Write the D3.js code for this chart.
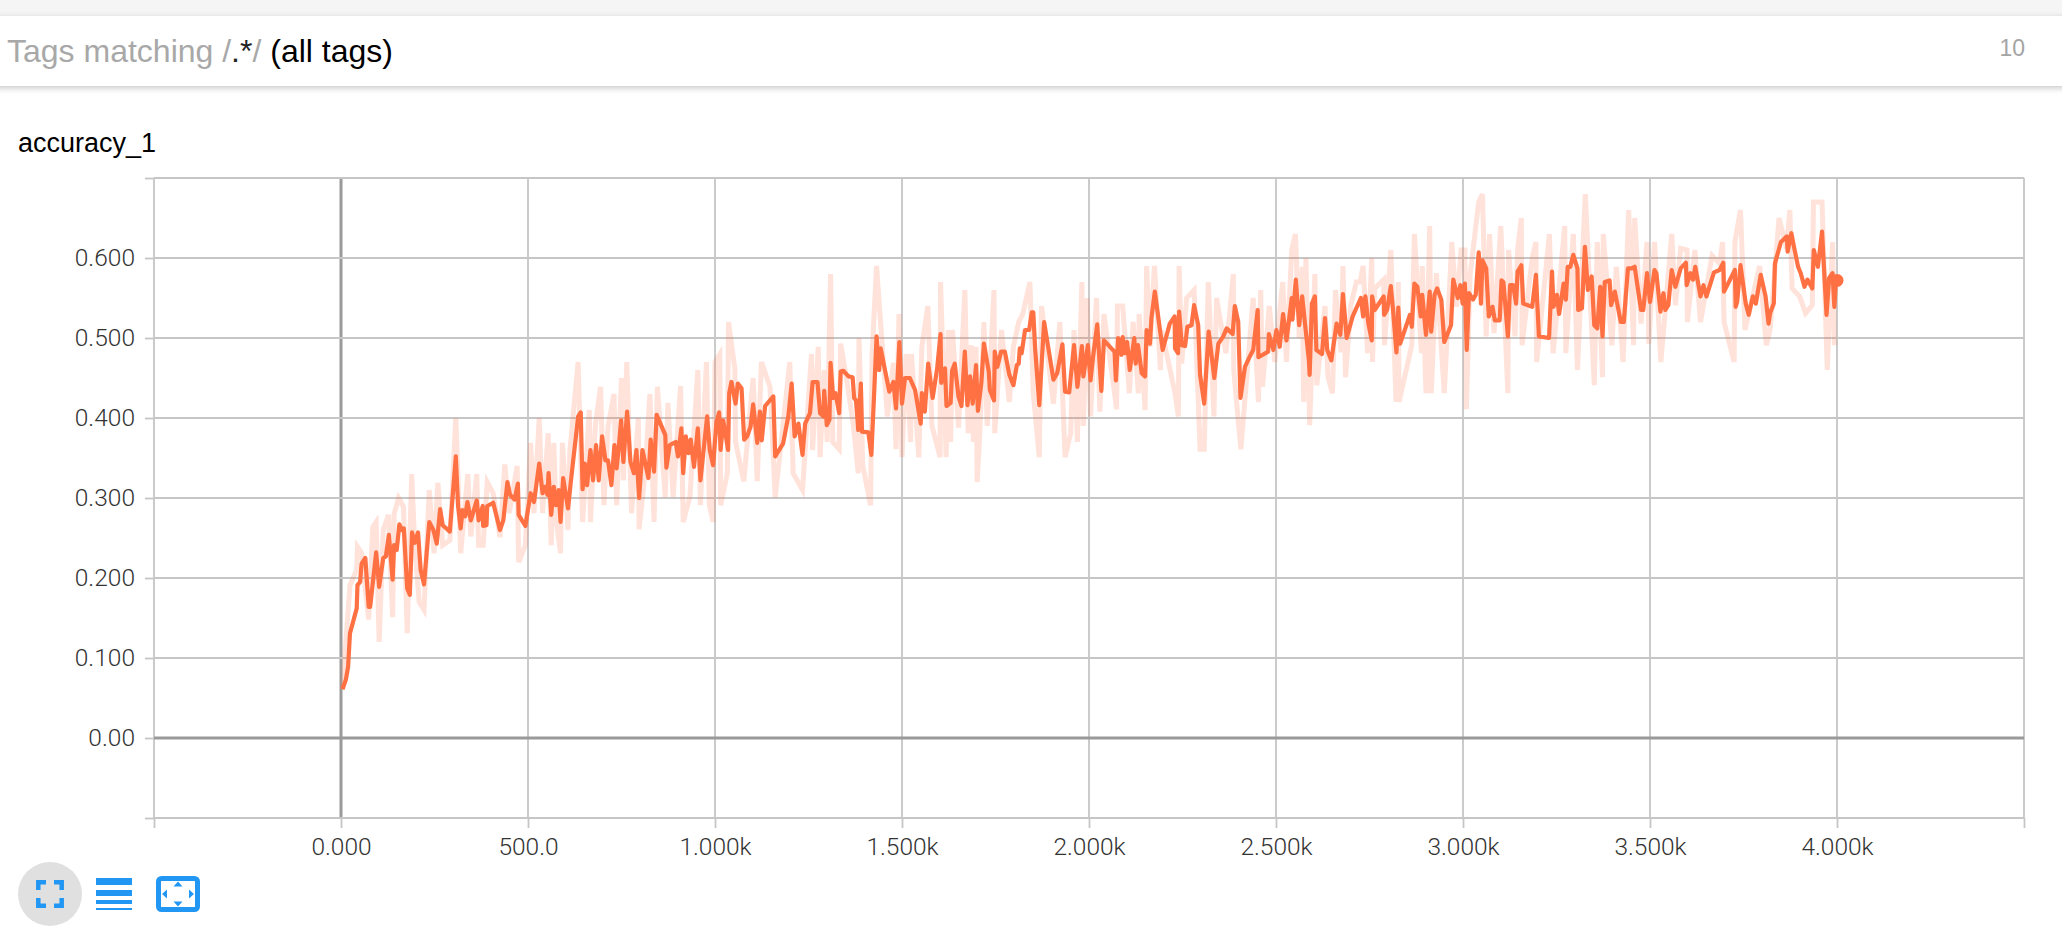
<!DOCTYPE html>
<html><head><meta charset="utf-8">
<script src="https://cdn.jsdelivr.net/npm/d3@7"></script>
<style>
html,body{margin:0;padding:0;background:#fff;overflow:hidden}
svg{display:block}
</style></head><body>
<svg id="c" width="2062" height="942"></svg>
<script>
const chartTitle = "accuracy_1";
const xTickValues = [-500,0,500,1000,1500,2000,2500,3000,3500,4000,4500];
const xTickLabels = ["","0.000","500.0","1.000k","1.500k","2.000k","2.500k","3.000k","3.500k","4.000k",""];
const yTickValues = [-0.1,0,0.1,0.2,0.3,0.4,0.5,0.6,0.7];
const yTickLabels = ["","0.00","0.100","0.200","0.300","0.400","0.500","0.600",""];
const smoothedSeries = [[4,.061],[13,.073],[19,.089],[24,.131],[42,.162],[44,.191],[51,.195],[55,.218],[65,.225],[74,.164],[78,.164],[94,.232],[102,.189],[113,.225],[120,.227],[128,.254],[138,.198],[142,.241],[149,.235],[156,.267],[163,.260],[168,.262],[177,.187],[184,.179],[190,.257],[197,.244],[206,.257],[213,.210],[222,.192],[236,.270],[247,.260],[256,.243],[265,.286],[272,.266],[291,.258],[307,.352],[313,.290],[320,.262],[325,.285],[332,.277],[338,.295],[347,.272],[363,.297],[368,.272],[379,.290],[380,.265],[389,.266],[391,.290],[407,.294],[425,.260],[434,.272],[445,.320],[452,.304],[464,.298],[473,.318],[475,.279],[493,.265],[507,.306],[516,.295],[530,.343],[539,.306],[546,.314],[552,.304],[555,.331],[562,.279],[569,.314],[575,.291],[582,.310],[587,.270],[594,.325],[607,.287],[614,.318],[634,.402],[641,.407],[646,.311],[652,.343],[658,.316],[667,.360],[674,.322],[682,.366],[689,.322],[698,.377],[707,.347],[714,.347],[723,.316],[731,.366],[737,.337],[742,.360],[749,.397],[755,.345],[765,.408],[774,.345],[783,.331],[790,.360],[797,.300],[806,.360],[822,.325],[828,.373],[837,.333],[844,.404],[867,.379],[870,.338],[879,.366],[895,.370],[901,.352],[910,.387],[915,.331],[922,.377],[929,.356],[935,.373],[944,.339],[954,.387],[961,.322],[979,.402],[986,.360],[995,.341],[1004,.395],[1011,.407],[1015,.360],[1022,.397],[1035,.360],[1038,.431],[1044,.445],[1055,.418],[1061,.443],[1071,.437],[1078,.373],[1086,.377],[1095,.389],[1102,.417],[1113,.369],[1120,.408],[1125,.372],[1134,.415],[1156,.427],[1161,.352],[1182,.368],[1196,.402],[1205,.443],[1213,.377],[1223,.393],[1234,.354],[1241,.393],[1254,.406],[1261,.445],[1271,.445],[1274,.445],[1281,.406],[1290,.402],[1292,.434],[1299,.391],[1306,.398],[1309,.469],[1316,.425],[1322,.431],[1332,.406],[1336,.458],[1343,.459],[1357,.452],[1368,.451],[1372,.425],[1377,.422],[1383,.385],[1390,.443],[1393,.383],[1410,.382],[1418,.354],[1425,.425],[1432,.502],[1439,.460],[1443,.487],[1466,.433],[1477,.445],[1484,.412],[1493,.495],[1500,.418],[1508,.450],[1521,.450],[1535,.435],[1550,.393],[1553,.431],[1561,.408],[1570,.468],[1582,.425],[1594,.462],[1603,.505],[1605,.444],[1615,.462],[1619,.415],[1630,.419],[1634,.459],[1641,.468],[1651,.427],[1659,.415],[1668,.483],[1675,.416],[1682,.452],[1689,.418],[1698,.466],[1703,.409],[1712,.443],[1719,.493],[1732,.458],[1735,.435],[1746,.422],[1748,.483],[1755,.464],[1765,.483],[1775,.483],[1787,.454],[1798,.441],[1807,.466],[1812,.468],[1815,.487],[1820,.481],[1829,.510],[1840,.510],[1847,.532],[1851,.532],[1856,.487],[1867,.416],[1880,.520],[1905,.448],[1915,.456],[1929,.492],[1936,.433],[1947,.432],[1960,.491],[1969,.439],[1981,.490],[1985,.452],[1997,.491],[2004,.447],[2011,.477],[2022,.517],[2033,.434],[2040,.497],[2068,.483],[2072,.447],[2078,.500],[2087,.479],[2090,.501],[2096,.481],[2102,.495],[2109,.460],[2121,.500],[2125,.468],[2131,.491],[2141,.456],[2150,.452],[2154,.510],[2163,.493],[2167,.525],[2176,.558],[2197,.485],[2216,.518],[2229,.527],[2230,.487],[2238,.481],[2241,.533],[2248,.491],[2257,.490],[2263,.514],[2274,.516],[2281,.541],[2292,.516],[2297,.454],[2308,.418],[2320,.508],[2335,.450],[2346,.493],[2359,.502],[2368,.512],[2384,.505],[2390,.540],[2399,.520],[2405,.425],[2417,.464],[2430,.477],[2439,.485],[2451,.535],[2453,.476],[2479,.483],[2481,.505],[2493,.485],[2501,.510],[2510,.489],[2519,.530],[2528,.497],[2542,.550],[2544,.523],[2553,.573],[2562,.516],[2570,.552],[2578,.516],[2588,.472],[2590,.454],[2596,.543],[2604,.552],[2608,.485],[2623,.480],[2631,.525],[2637,.485],[2648,.472],[2662,.518],[2672,.504],[2679,.555],[2689,.500],[2705,.527],[2727,.550],[2733,.527],[2739,.552],[2747,.518],[2756,.497],[2757,.552],[2764,.535],[2788,.552],[2789,.529],[2797,.535],[2807,.565],[2813,.535],[2822,.482],[2827,.538],[2832,.493],[2858,.529],[2863,.514],[2870,.568],[2878,.564],[2887,.527],[2891,.554],[2901,.504],[2911,.558],[2915,.508],[2924,.554],[2931,.562],[2942,.548],[2950,.495],[2968,.516],[2974,.573],[2986,.550],[2993,.566],[2999,.543],[3005,.568],[3010,.485],[3016,.556],[3027,.548],[3034,.554],[3042,.607],[3048,.543],[3052,.597],[3062,.587],[3069,.527],[3079,.539],[3085,.522],[3098,.522],[3103,.572],[3108,.570],[3120,.502],[3126,.566],[3134,.566],[3142,.543],[3146,.583],[3156,.591],[3161,.543],[3185,.539],[3195,.579],[3203,.502],[3230,.500],[3238,.583],[3242,.539],[3251,.554],[3257,.530],[3269,.568],[3275,.548],[3280,.589],[3287,.589],[3295,.604],[3306,.587],[3308,.535],[3318,.537],[3326,.614],[3334,.560],[3344,.577],[3351,.516],[3359,.512],[3367,.564],[3373,.502],[3379,.570],[3392,.572],[3396,.541],[3406,.558],[3422,.520],[3430,.520],[3441,.587],[3451,.587],[3459,.589],[3476,.535],[3482,.535],[3492,.581],[3500,.545],[3512,.585],[3517,.581],[3528,.533],[3536,.556],[3541,.535],[3549,.541],[3558,.585],[3568,.564],[3582,.587],[3596,.594],[3598,.566],[3608,.581],[3615,.573],[3621,.589],[3635,.552],[3643,.566],[3651,.552],[3671,.582],[3686,.585],[3696,.594],[3698,.558],[3727,.585],[3729,.539],[3733,.545],[3742,.591],[3756,.543],[3764,.529],[3775,.552],[3783,.543],[3792,.568],[3796,.579],[3809,.552],[3817,.518],[3821,.531],[3831,.543],[3834,.593],[3850,.620],[3866,.627],[3868,.608],[3878,.631],[3885,.614],[3896,.589],[3903,.581],[3913,.564],[3921,.573],[3934,.562],[3938,.610],[3949,.589],[3960,.633],[3972,.529],[3979,.575],[3988,.581],[3993,.539],[3997,.572]];
const rawSeries = [[4,.061],[24,.191],[42,.210],[44,.239],[55,.231],[74,.148],[85,.264],[94,.270],[102,.120],[113,.260],[127,.279],[138,.151],[142,.280],[154,.300],[167,.289],[177,.131],[189,.330],[197,.243],[209,.170],[222,.160],[236,.310],[249,.231],[259,.319],[272,.241],[291,.247],[307,.400],[320,.231],[339,.330],[347,.252],[363,.330],[368,.241],[380,.241],[391,.320],[407,.306],[425,.251],[438,.342],[450,.281],[471,.340],[475,.220],[493,.241],[507,.369],[516,.281],[530,.400],[539,.281],[554,.381],[562,.241],[569,.369],[576,.270],[587,.231],[592,.369],[607,.260],[612,.359],[634,.470],[646,.270],[664,.410],[667,.270],[680,.391],[694,.439],[703,.291],[714,.389],[730,.430],[737,.291],[750,.450],[755,.322],[764,.470],[777,.281],[795,.400],[797,.261],[813,.331],[826,.430],[837,.270],[846,.439],[867,.301],[874,.419],[888,.301],[908,.440],[915,.270],[933,.302],[954,.460],[961,.291],[977,.470],[985,.291],[995,.270],[1000,.470],[1013,.480],[1015,.291],[1033,.331],[1036,.520],[1053,.462],[1055,.370],[1077,.321],[1102,.450],[1113,.321],[1124,.470],[1147,.439],[1161,.301],[1200,.470],[1209,.331],[1234,.310],[1258,.480],[1261,.360],[1276,.489],[1281,.351],[1292,.460],[1300,.370],[1309,.580],[1315,.370],[1332,.361],[1336,.493],[1352,.448],[1370,.391],[1383,.331],[1385,.500],[1395,.341],[1416,.291],[1420,.480],[1432,.590],[1441,.530],[1461,.402],[1477,.469],[1484,.361],[1492,.530],[1500,.351],[1511,.480],[1523,.370],[1525,.480],[1545,.351],[1553,.489],[1569,.540],[1580,.390],[1602,.351],[1603,.570],[1618,.351],[1624,.510],[1630,.370],[1635,.510],[1651,.388],[1668,.560],[1677,.381],[1685,.491],[1691,.370],[1698,.489],[1701,.320],[1708,.381],[1719,.520],[1728,.390],[1746,.560],[1748,.381],[1766,.510],[1787,.420],[1798,.489],[1812,.520],[1823,.530],[1842,.570],[1851,.431],[1867,.351],[1873,.540],[1905,.418],[1922,.520],[1936,.351],[1951,.381],[1960,.510],[1969,.370],[1981,.570],[1985,.390],[1995,.550],[2004,.402],[2020,.550],[2029,.408],[2040,.530],[2074,.411],[2076,.540],[2090,.540],[2108,.431],[2118,.520],[2132,.431],[2134,.530],[2150,.410],[2154,.590],[2163,.489],[2175,.590],[2191,.460],[2194,.510],[2230,.431],[2239,.402],[2241,.590],[2248,.468],[2261,.550],[2281,.560],[2297,.361],[2308,.361],[2319,.570],[2334,.402],[2341,.550],[2366,.481],[2386,.580],[2387,.460],[2406,.361],[2439,.550],[2453,.420],[2459,.560],[2464,.439],[2482,.540],[2497,.470],[2518,.570],[2528,.470],[2542,.610],[2552,.630],[2562,.500],[2570,.589],[2574,.420],[2580,.600],[2590,.391],[2604,.580],[2609,.441],[2631,.540],[2639,.451],[2651,.431],[2659,.560],[2674,.482],[2679,.590],[2686,.451],[2700,.541],[2715,.570],[2725,.570],[2733,.590],[2745,.481],[2756,.600],[2758,.470],[2764,.562],[2788,.573],[2790,.491],[2807,.610],[2821,.420],[2827,.570],[2829,.420],[2863,.491],[2870,.630],[2889,.481],[2891,.590],[2901,.431],[2911,.640],[2915,.431],[2929,.581],[2950,.431],[2970,.620],[2983,.539],[2995,.610],[3005,.610],[3009,.411],[3019,.579],[3042,.670],[3052,.680],[3062,.502],[3071,.630],[3083,.506],[3101,.640],[3120,.431],[3122,.610],[3139,.502],[3146,.610],[3156,.650],[3158,.491],[3185,.600],[3195,.620],[3197,.470],[3231,.630],[3241,.481],[3272,.640],[3275,.481],[3295,.630],[3306,.460],[3327,.680],[3351,.441],[3359,.620],[3373,.451],[3375,.630],[3398,.491],[3410,.589],[3428,.470],[3443,.660],[3456,.491],[3459,.650],[3476,.518],[3492,.620],[3497,.493],[3512,.620],[3529,.470],[3558,.630],[3568,.541],[3582,.612],[3599,.610],[3600,.520],[3620,.610],[3635,.520],[3666,.603],[3686,.593],[3694,.620],[3698,.520],[3725,.470],[3727,.620],[3742,.660],[3754,.510],[3793,.590],[3811,.491],[3821,.510],[3845,.650],[3865,.612],[3874,.660],[3880,.562],[3900,.552],[3916,.531],[3934,.541],[3937,.670],[3954,.670],[3960,.670],[3974,.460],[3988,.620],[3993,.491]];

const svg = d3.select("#c");
const LINE = "#ff7043", BLUE = "#2196f3", SANS = "'Liberation Sans',Arial,sans-serif", THIN = "Roboto,'Liberation Sans',sans-serif";

// page chrome
const defs = svg.append("defs");
const f = defs.append("filter").attr("id","sh").attr("x","-2%").attr("y","-30%").attr("width","104%").attr("height","170%");
f.append("feDropShadow").attr("dx",0).attr("dy",2).attr("stdDeviation",3).attr("flood-color","#000").attr("flood-opacity",.22);
svg.append("rect").attr("width",2062).attr("height",16).attr("fill","#f5f5f5");
svg.append("rect").attr("x",-10).attr("y",16).attr("width",2082).attr("height",70).attr("fill","#fff").attr("filter","url(#sh)");

const tag = svg.append("text").attr("x",7).attr("y",62).attr("font-family",SANS).attr("font-size",32).attr("fill","#a8a8a8");
tag.append("tspan").text("Tags matching /");
tag.append("tspan").attr("fill","#222").text(".*");
tag.append("tspan").text("/ ");
tag.append("tspan").attr("fill","#000").text("(all tags)");
svg.append("text").attr("x",2025).attr("y",56).attr("text-anchor","end").attr("font-family",SANS).attr("font-size",23).attr("fill","#a4a4a4").text("10");
svg.append("text").attr("x",18).attr("y",152).attr("font-family",SANS).attr("font-size",27).attr("fill","#000").text(chartTitle);

// scales
const x = d3.scaleLinear().domain([-500,4500]).range([154,2024]);
const y = d3.scaleLinear().domain([-0.1,0.7]).range([818,178]);

// axes + grid
const xAxis = d3.axisBottom(x).tickValues(xTickValues).tickSize(10).tickPadding(10).tickFormat((d,i)=>xTickLabels[i]);
const yAxis = d3.axisLeft(y).tickValues(yTickValues).tickSize(9).tickPadding(10).tickFormat((d,i)=>yTickLabels[i]);
const gx = svg.append("g").attr("transform","translate(0,818)").call(xAxis);
const gy = svg.append("g").attr("transform","translate(154,0)").call(yAxis);
[gx,gy].forEach(g=>{
  g.select(".domain").remove();
  g.selectAll("line").attr("stroke","#c6c6c6").attr("stroke-width",1.8);
  g.selectAll("text").attr("font-family",THIN).attr("font-weight",300).attr("font-size",24.5).attr("fill","#333");
});
gx.selectAll(".tick text").attr("dy","0.71em");

const grid = svg.append("g");
grid.selectAll("line.v").data(xTickValues).join("line").attr("class","v")
  .attr("x1",d=>x(d)).attr("x2",d=>x(d)).attr("y1",y(0.7)).attr("y2",y(-0.1))
  .attr("stroke",d=>d===0?"#9a9a9a":"#c6c6c6").attr("stroke-width",d=>d===0?3:1.8);
grid.selectAll("line.h").data(yTickValues).join("line").attr("class","h")
  .attr("x1",x(-500)).attr("x2",x(4500)).attr("y1",d=>y(d)).attr("y2",d=>y(d))
  .attr("stroke",d=>d===0?"#9a9a9a":"#c6c6c6").attr("stroke-width",d=>d===0?3:1.8);

// series
const line = d3.line().x(d=>x(d[0])).y(d=>y(d[1]));
svg.append("path").datum(rawSeries).attr("d",line).attr("fill","none").attr("stroke",LINE).attr("stroke-opacity",.2).attr("stroke-width",5);
svg.append("path").datum(smoothedSeries).attr("d",line).attr("fill","none").attr("stroke",LINE).attr("stroke-width",4.2).attr("stroke-linejoin","round");
const last = smoothedSeries[smoothedSeries.length-1];
svg.append("circle").attr("cx",x(4000)).attr("cy",y(last[1])).attr("r",6.5).attr("fill",LINE);

// toolbar icons
const tb = svg.append("g");
tb.append("circle").attr("cx",50).attr("cy",894).attr("r",32).attr("fill","#e0e0e0");
tb.append("path").attr("fill","none").attr("stroke",BLUE).attr("stroke-width",4.5)
  .attr("d","M38.3 890V882.3H46 M54 882.3H61.7V890 M61.7 898V905.7H54 M46 905.7H38.3V898");
[[878,7],[890,6],[900,4],[908,2]].forEach(r=>tb.append("rect").attr("x",96).attr("y",r[0]).attr("width",36).attr("height",r[1]).attr("fill",BLUE));
tb.append("rect").attr("x",158.5).attr("y",878.5).attr("width",39).attr("height",31).attr("rx",3).attr("fill","none").attr("stroke",BLUE).attr("stroke-width",5);
tb.append("path").attr("fill",BLUE).attr("d","M178 881.5l4.5 5h-9z M178 906.5l4.5-5h-9z M162 894l5-4.5v9z M194 894l-5-4.5v9z");
</script>
</body></html>
